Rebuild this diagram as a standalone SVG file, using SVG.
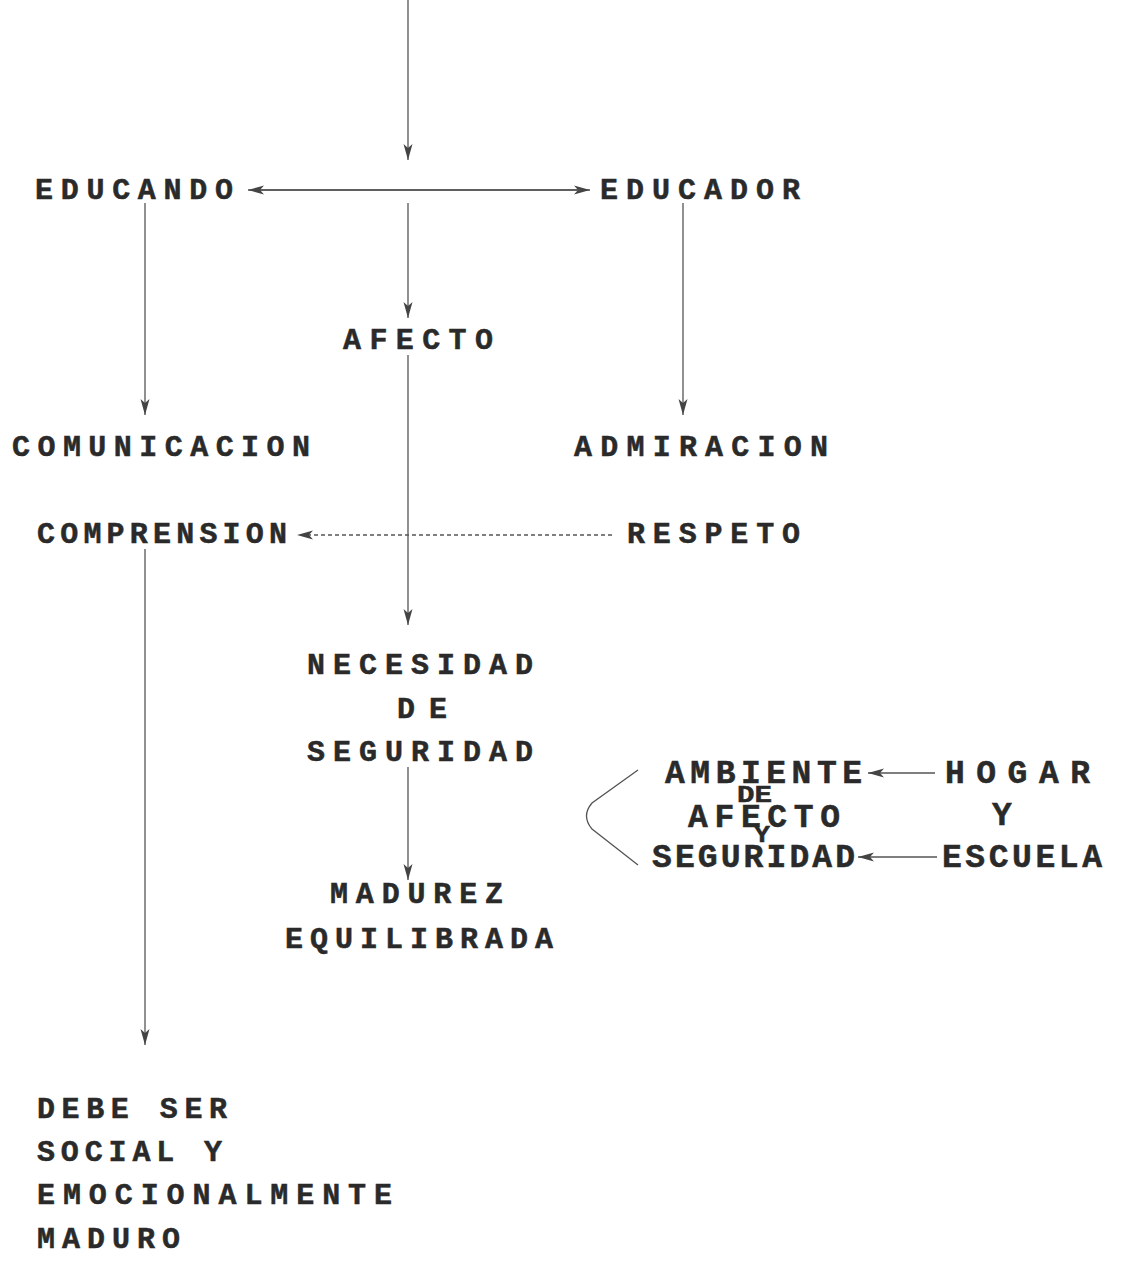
<svg xmlns="http://www.w3.org/2000/svg" width="1135" height="1285" viewBox="0 0 1135 1285">
<defs>
<marker id="ah" markerUnits="userSpaceOnUse" markerWidth="18" markerHeight="12" refX="16" refY="6" orient="auto">
<path d="M0,1.5 L16,6 L0,10.5 L4,6 z" fill="#444"/>
</marker>
</defs>
<style>
text{font-family:"Liberation Mono","Courier New",monospace;font-weight:bold;font-size:30px;fill:#2a2a2a;stroke:#2a2a2a;stroke-width:0.5;}
.b{font-size:33px;}
.s{font-size:24px;}
.ln{stroke:#555;stroke-width:1.3;fill:none;}
.dash{stroke-dasharray:4,3;}
</style>
<rect width="1135" height="1285" fill="#fff"/>
<g id="connectors">
<line class="ln" x1="408" y1="0" x2="408" y2="160" marker-end="url(#ah)"/>
<line class="ln" x1="260" y1="190" x2="590" y2="190" marker-end="url(#ah)"/>
<line class="ln" x1="580" y1="190" x2="248" y2="190" marker-end="url(#ah)"/>
<line class="ln" x1="145" y1="203" x2="145" y2="415" marker-end="url(#ah)"/>
<line class="ln" x1="408" y1="203" x2="408" y2="318" marker-end="url(#ah)"/>
<line class="ln" x1="683" y1="203" x2="683" y2="415" marker-end="url(#ah)"/>
<line class="ln" x1="408" y1="355" x2="408" y2="625" marker-end="url(#ah)"/>
<line class="ln dash" x1="612" y1="535" x2="297" y2="535" marker-end="url(#ah)"/>
<line class="ln" x1="145" y1="549" x2="145" y2="1045" marker-end="url(#ah)"/>
<line class="ln" x1="408" y1="767" x2="408" y2="880" marker-end="url(#ah)"/>
<line class="ln" x1="935" y1="773" x2="868" y2="773" marker-end="url(#ah)"/>
<line class="ln" x1="937" y1="857" x2="858" y2="857" marker-end="url(#ah)"/>
<path class="ln" d="M638,770 L592,803 Q581,816 592,829 L638,865"/>
</g>
<g id="n-educando"><text x="35" y="199" textLength="198" lengthAdjust="spacing">EDUCANDO</text></g>
<g id="n-educador"><text x="600" y="199" textLength="200" lengthAdjust="spacing">EDUCADOR</text></g>
<g id="n-afecto"><text x="343" y="349" textLength="150" lengthAdjust="spacing">AFECTO</text></g>
<g id="n-comunicacion"><text x="12" y="456" textLength="298" lengthAdjust="spacing">COMUNICACION</text></g>
<g id="n-admiracion"><text x="574" y="456" textLength="254" lengthAdjust="spacing">ADMIRACION</text></g>
<g id="n-comprension"><text x="37" y="543" textLength="250" lengthAdjust="spacing">COMPRENSION</text></g>
<g id="n-respeto"><text x="627" y="543" textLength="173" lengthAdjust="spacing">RESPETO</text></g>
<g id="n-necesidad">
<text x="307" y="674" textLength="226" lengthAdjust="spacing">NECESIDAD</text>
<text x="397" y="718" textLength="50" lengthAdjust="spacing">DE</text>
<text x="307" y="761" textLength="226" lengthAdjust="spacing">SEGURIDAD</text>
</g>
<g id="n-madurez">
<text x="330" y="903" textLength="173" lengthAdjust="spacing">MADUREZ</text>
<text x="285" y="948" textLength="268" lengthAdjust="spacing">EQUILIBRADA</text>
</g>
<g id="n-debe">
<text x="37" y="1118" textLength="190" lengthAdjust="spacing">DEBE SER</text>
<text x="37" y="1161" textLength="185" lengthAdjust="spacing">SOCIAL Y</text>
<text x="37" y="1204" textLength="355" lengthAdjust="spacing">EMOCIONALMENTE</text>
<text x="37" y="1248" textLength="143" lengthAdjust="spacing">MADURO</text>
</g>
<g id="n-ambiente">
<text class="b" x="665" y="783" textLength="197" lengthAdjust="spacing">AMBIENTE</text>
<text class="s" x="737" y="802" textLength="35" lengthAdjust="spacingAndGlyphs">DE</text>
<text class="b" x="688" y="827" textLength="152" lengthAdjust="spacing">AFECTO</text>
<text class="s" x="754" y="842" textLength="16" lengthAdjust="spacingAndGlyphs">Y</text>
<text class="b" x="652" y="867" textLength="203" lengthAdjust="spacing">SEGURIDAD</text>
</g>
<g id="n-hogar">
<text class="b" x="945" y="783" textLength="145" lengthAdjust="spacing">HOGAR</text>
<text class="b" x="992" y="825">Y</text>
<text class="b" x="942" y="867" textLength="160" lengthAdjust="spacing">ESCUELA</text>
</g>
</svg>
